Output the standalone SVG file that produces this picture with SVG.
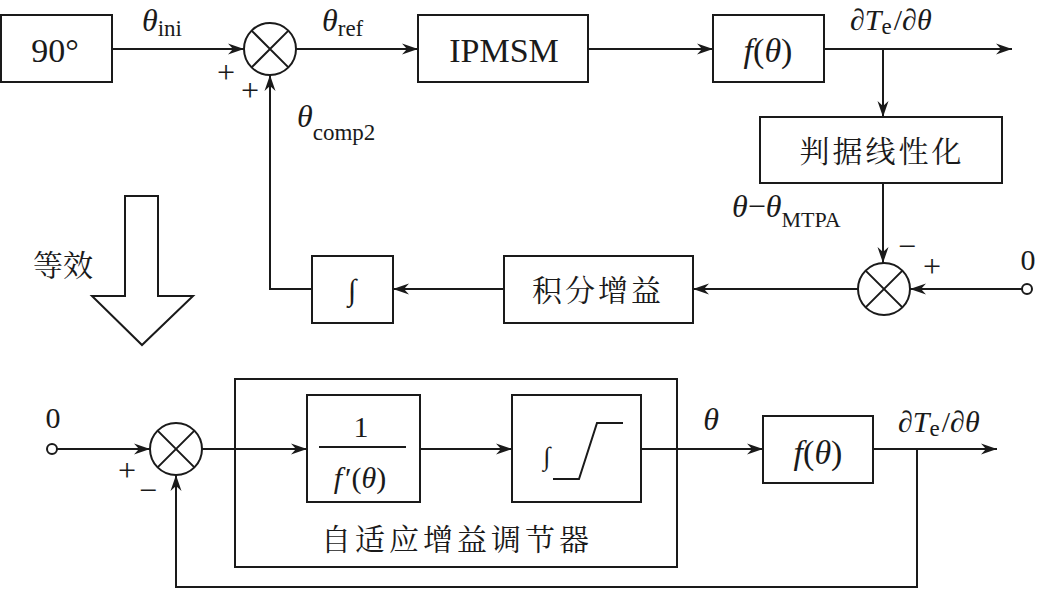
<svg xmlns="http://www.w3.org/2000/svg" width="1039" height="591" viewBox="0 0 1039 591">
<style>
.b{fill:#fff;stroke:#1a1a1a;stroke-width:2}
.l{fill:none;stroke:#1a1a1a;stroke-width:2}
.a{fill:none;stroke:#1a1a1a;stroke-width:2;marker-end:url(#ar)}
.t{font-family:'Liberation Serif','DejaVu Serif','Times New Roman',serif;fill:#1a1a1a}
.cjk{font-family:'Noto Serif CJK SC','Noto Sans CJK SC','Noto Sans CJK JP',sans-serif;fill:#1a1a1a}
.i{font-style:italic}
.s{font-size:32px}
</style>
<defs>
<marker id="ar" viewBox="-16 -6 16 12" markerWidth="16" markerHeight="12" refX="0" refY="0" orient="auto" markerUnits="userSpaceOnUse">
<path d="M0,0 L-16,-5.5 L-11,0 L-16,5.5 Z" fill="#1a1a1a"/>
</marker>
</defs>
<rect width="1039" height="591" fill="#fff"/>

<g id="connectors">
<path class="a" d="M112,49 H244"/>
<path class="a" d="M296,49 H418"/>
<path class="a" d="M588,49 H713"/>
<path class="a" d="M824,49 H1012"/>
<path class="a" d="M883,49 V117"/>
<path class="a" d="M883,183 V263"/>
<path class="a" d="M1022,289 H910"/>
<path class="a" d="M858,289 H693"/>
<path class="a" d="M504,289 H393"/>
<path class="a" d="M312,289 H270 V75"/>
<path class="a" d="M57,449 H150"/>
<path class="a" d="M202,449 H307"/>
<path class="a" d="M420,449 H512"/>
<path class="a" d="M641,449 H763"/>
<path class="a" d="M873,449 H997"/>
<path class="a" d="M917,449 V587 H176 V475"/>
</g>

<g id="n90">
<rect class="b" x="1" y="15" width="111" height="67"/>
<text class="t" x="55" y="62" font-size="34" text-anchor="middle">90°</text>
</g>
<g id="sum1">
<circle class="b" cx="270" cy="49" r="26"/>
<path class="l" d="M251.6,30.6 L288.4,67.4 M288.4,30.6 L251.6,67.4"/>
</g>
<g id="ipmsm">
<rect class="b" x="418" y="15" width="170" height="67"/>
<text class="t" x="504" y="62" font-size="34" text-anchor="middle">IPMSM</text>
</g>
<g id="f1">
<rect class="b" x="713" y="15" width="111" height="67"/>
<text class="t" x="768" y="62" font-size="34" text-anchor="middle"><tspan class="i">f</tspan>(<tspan class="i">θ</tspan>)</text>
</g>
<g id="judge">
<rect class="b" x="760" y="117" width="242" height="66"/>
<text class="cjk" x="882" y="162" font-size="30" text-anchor="middle" letter-spacing="3">判据线性化</text>
</g>
<g id="sum2">
<circle class="b" cx="884" cy="289" r="26"/>
<path class="l" d="M865.6,270.6 L902.4,307.4 M902.4,270.6 L865.6,307.4"/>
</g>
<g id="zero1">
<circle class="b" cx="1027" cy="289" r="5"/>
<text class="t" x="1028" y="270" font-size="30" text-anchor="middle">0</text>
</g>
<g id="gain">
<rect class="b" x="504" y="256" width="189" height="67"/>
<text class="cjk" x="598" y="301" font-size="30" text-anchor="middle" letter-spacing="3">积分增益</text>
</g>
<g id="int1">
<rect class="b" x="312" y="256" width="81" height="67"/>
<text class="t" x="352" y="300" font-size="30" text-anchor="middle">∫</text>
</g>

<g id="equiv">
<text class="cjk" x="63" y="276" font-size="30" text-anchor="middle">等效</text>
<path class="b" d="M125,196 H158 V296 H193 L142,345 L92,296 H125 Z"/>
</g>

<g id="zero2">
<circle class="b" cx="52" cy="449" r="5"/>
<text class="t" x="53" y="428" font-size="30" text-anchor="middle">0</text>
</g>
<g id="sum3">
<circle class="b" cx="176" cy="449" r="26"/>
<path class="l" d="M157.6,430.6 L194.4,467.4 M194.4,430.6 L157.6,467.4"/>
</g>
<g id="adaptive">
<rect class="l" x="235" y="379" width="442" height="188"/>
<text class="cjk" x="457" y="550" font-size="30" text-anchor="middle" letter-spacing="4">自适应增益调节器</text>
</g>
<g id="inv">
<rect class="b" x="307" y="395" width="113" height="107"/>
<text class="t" x="361" y="437" font-size="30" text-anchor="middle">1</text>
<path class="l" d="M319,447 H406"/>
<text class="t" x="360" y="488" font-size="30" text-anchor="middle"><tspan class="i">f</tspan><tspan dx="3">′</tspan>(<tspan class="i">θ</tspan>)</text>
</g>
<g id="intsat">
<rect class="b" x="512" y="395" width="129" height="107"/>
<text class="t" x="547" y="465" font-size="26" text-anchor="middle">∫</text>
<path class="l" d="M553,479 H579 L597,423 H623"/>
</g>
<g id="f2">
<rect class="b" x="763" y="416" width="110" height="67"/>
<text class="t" x="818" y="464" font-size="34" text-anchor="middle"><tspan class="i">f</tspan>(<tspan class="i">θ</tspan>)</text>
</g>

<g id="labels">
<text class="t" x="142" y="31" font-size="32"><tspan class="i">θ</tspan><tspan font-size="23" dy="5">ini</tspan></text>
<text class="t" x="322" y="31" font-size="32"><tspan class="i">θ</tspan><tspan font-size="23" dy="5">ref</tspan></text>
<text class="t" x="297" y="127" font-size="32"><tspan class="i">θ</tspan><tspan font-size="23" dy="13">comp2</tspan></text>
<text class="t s" x="226" y="83" text-anchor="middle">+</text>
<text class="t s" x="250" y="101" text-anchor="middle">+</text>
<text class="t" x="850" y="30" font-size="30">∂<tspan class="i">T</tspan><tspan font-size="23" dy="4">e</tspan><tspan dy="-4" dx="2">/∂</tspan><tspan class="i">θ</tspan></text>
<text class="t" x="732" y="217" font-size="32"><tspan class="i">θ</tspan>−<tspan class="i">θ</tspan><tspan font-size="22" dy="10">MTPA</tspan></text>
<text class="t s" x="907" y="257" text-anchor="middle">−</text>
<text class="t s" x="932" y="277" text-anchor="middle">+</text>
<text class="t s" x="127" y="481" text-anchor="middle">+</text>
<text class="t s" x="148" y="501" text-anchor="middle">−</text>
<text class="t i" x="711" y="430" font-size="32" text-anchor="middle">θ</text>
<text class="t" x="898" y="432" font-size="30">∂<tspan class="i">T</tspan><tspan font-size="23" dy="4">e</tspan><tspan dy="-4" dx="2">/∂</tspan><tspan class="i">θ</tspan></text>
</g>
</svg>
